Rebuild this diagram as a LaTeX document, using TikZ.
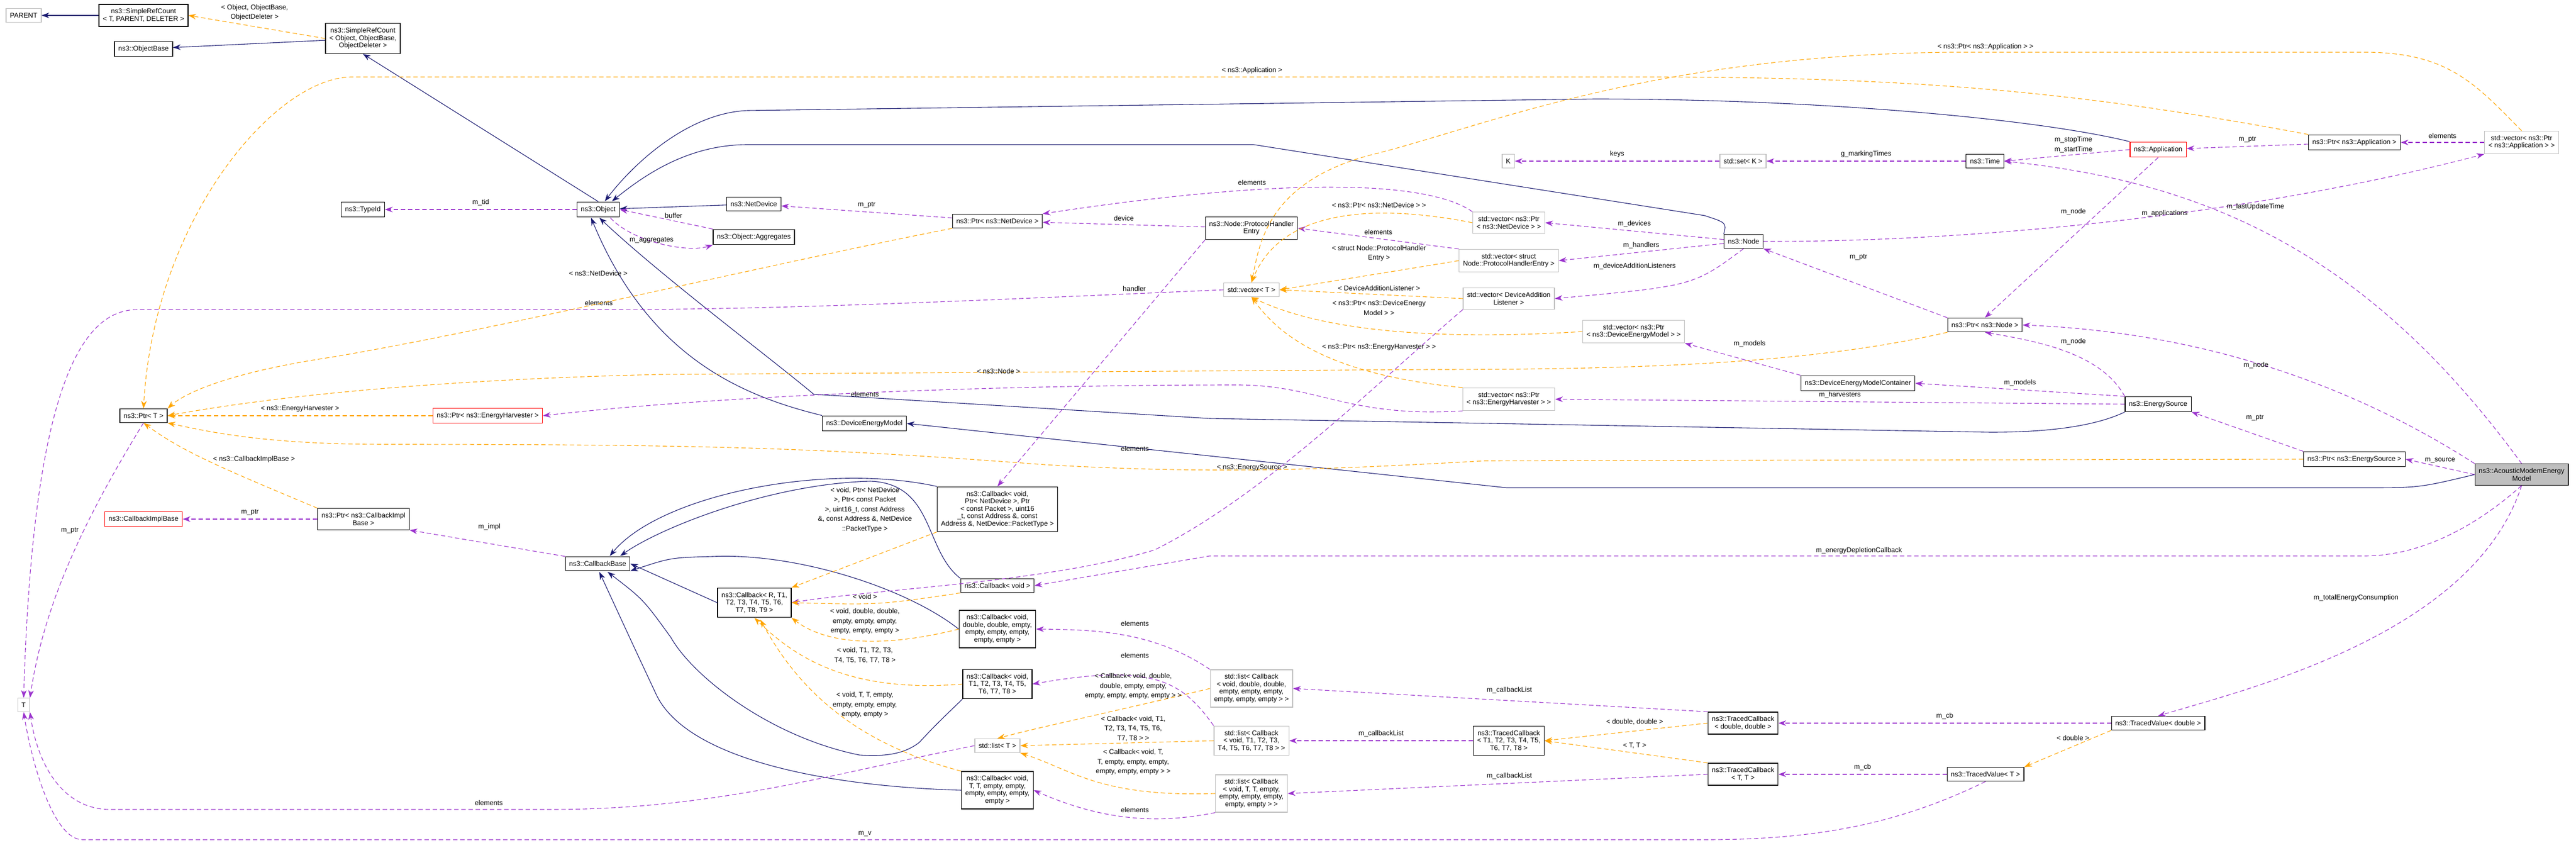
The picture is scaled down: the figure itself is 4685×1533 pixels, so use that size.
\documentclass[tikz,border=0pt]{standalone}
\usepackage{fontspec}
\setmainfont{Liberation Sans}
\usetikzlibrary{arrows.meta,positioning}
\definecolor{navyline}{HTML}{191970}
\definecolor{orchidline}{HTML}{9A32CD}
\definecolor{tplline}{HTML}{FFA500}

\begin{document}
\begin{tikzpicture}
   [x=1pt,y=-1pt,
    every node/.style={font=\fontsize{12.5}{17.5}\selectfont},
    cls/.style={draw=black,line width=1.3pt,fill=white,align=center,inner xsep=7pt,inner ysep=8pt},
    ext/.style={cls,draw=black!25},
    bad/.style={cls,draw=red},
    focus/.style={cls,fill=black!25},
    lbl/.style={align=center,inner sep=0pt},
    inh/.style={draw=navyline,line width=1.1pt,-{Stealth[length=14pt,width=10pt]}},
    usg/.style={draw=orchidline,line width=1.1pt,dash pattern=on 8pt off 5pt,-{Stealth[length=14pt,width=10pt]}},
    tpl/.style={draw=tplline,line width=1.1pt,dash pattern=on 8pt off 5pt,-{Stealth[length=14pt,width=10pt]}}]
\useasboundingbox (0,0) rectangle (4685,1533);
% classes
\node [ext] (parent) at (43,28) {PARENT};
\node [cls] (srcTPD) at (261,28) {ns3::SimpleRefCount\\[-4pt]< T, PARENT, DELETER >};
\node [cls] (objBase) at (261,89) {ns3::ObjectBase};
\node [cls] (srcObj) at (660,70) {ns3::SimpleRefCount\\[-4pt]< Object, ObjectBase,\\[-4pt]ObjectDeleter >};
\node [cls] (typeId) at (660,381) {ns3::TypeId};
\node [cls] (object) at (1088,381) {ns3::Object};
\node [cls] (netDev) at (1371,371) {ns3::NetDevice};
\node [cls] (aggr) at (1371,431) {ns3::Object::Aggregates};
\node [cls] (ptrNetDev) at (1814,402) {ns3::Ptr< ns3::NetDevice >};
\node [cls] (phe) at (2276,415) {ns3::Node::ProtocolHandler\\[-4pt]Entry};
\node [ext] (vecT) at (2276,527) {std::vector< T >};
\node [ext] (vecND) at (2744,405) {std::vector< ns3::Ptr\\[-4pt]< ns3::NetDevice > >};
\node [ext] (vecPHE) at (2744,474) {std::vector< struct\\[-4pt] Node::ProtocolHandlerEntry >};
\node [ext] (vecDAL) at (2744,543) {std::vector< DeviceAddition\\[-4pt]Listener >};
\node [ext] (vecDEM) at (2971,603) {std::vector< ns3::Ptr\\[-4pt]< ns3::DeviceEnergyModel > >};
\node [ext] (vecEH) at (2744,726) {std::vector< ns3::Ptr\\[-4pt]< ns3::EnergyHarvester > >};
\node [ext] (k) at (2743,293) {K};
\node [ext] (setK) at (3170,293) {std::set< K >};
\node [cls] (node) at (3171,439) {ns3::Node};
\node [cls] (demc) at (3379,697) {ns3::DeviceEnergyModelContainer};
\node [cls] (ptrNode) at (3610,591) {ns3::Ptr< ns3::Node >};
\node [cls] (enSrc) at (3925,735) {ns3::EnergySource};
\node [cls] (time) at (3610,293) {ns3::Time};
\node [bad] (app) at (3925,272) {ns3::Application};
\node [cls] (ptrApp) at (4282,259) {ns3::Ptr< ns3::Application >};
\node [ext] (vecApp) at (4586,259) {std::vector< ns3::Ptr\\[-4pt]< ns3::Application > >};
\node [cls] (ptrES) at (4282,835) {ns3::Ptr< ns3::EnergySource >};
\node [focus] (acoustic) at (4586,863) {ns3::AcousticModemEnergy\\[-4pt]Model};
\node [cls] (tvDouble) at (3925,1315) {ns3::TracedValue< double >};
\node [cls] (tvT) at (3611,1408) {ns3::TracedValue< T >};
\node [cls] (tcDD) at (3170,1315) {ns3::TracedCallback\\[-4pt]< double, double >};
\node [cls] (tcTT) at (3170,1408) {ns3::TracedCallback\\[-4pt]< T, T >};
\node [cls] (tcT1) at (2744,1347) {ns3::TracedCallback\\[-4pt]< T1, T2, T3, T4, T5,\\[-4pt] T6, T7, T8 >};
\node [ext] (listDD) at (2276,1252) {std::list< Callback\\[-4pt]< void, double, double,\\[-4pt] empty, empty, empty,\\[-4pt] empty, empty, empty > >};
\node [ext] (listT1) at (2276,1347) {std::list< Callback\\[-4pt]< void, T1, T2, T3,\\[-4pt] T4, T5, T6, T7, T8 > >};
\node [ext] (listTT) at (2276,1443) {std::list< Callback\\[-4pt]< void, T, T, empty,\\[-4pt] empty, empty, empty,\\[-4pt] empty, empty > >};
\node [ext] (listT) at (1814,1356) {std::list< T >};
\node [cls] (dem) at (1572,770) {ns3::DeviceEnergyModel};
\node [cls] (cbND) at (1814,926) {ns3::Callback< void,\\[-4pt] Ptr< NetDevice >, Ptr\\[-4pt]< const Packet >, uint16\\[-4pt]\_t, const Address \&, const\\[-4pt] Address \&, NetDevice::PacketType >};
\node [cls] (cbVoid) at (1814,1065) {ns3::Callback< void >};
\node [cls] (cbR) at (1372,1096) {ns3::Callback< R, T1,\\[-4pt]T2, T3, T4, T5, T6,\\[-4pt]T7, T8, T9 >};
\node [cls] (cbDD) at (1814,1144) {ns3::Callback< void,\\[-4pt]double, double, empty,\\[-4pt]empty, empty, empty,\\[-4pt]empty, empty >};
\node [cls] (cbT1) at (1814,1244) {ns3::Callback< void,\\[-4pt]T1, T2, T3, T4, T5,\\[-4pt]T6, T7, T8 >};
\node [cls] (cbTT) at (1814,1437) {ns3::Callback< void,\\[-4pt]T, T, empty, empty,\\[-4pt]empty, empty, empty,\\[-4pt]empty >};
\node [cls] (cbBase) at (1087,1025) {ns3::CallbackBase};
\node [cls] (ptrCIB) at (661,944) {ns3::Ptr< ns3::CallbackImpl\\[-4pt]Base >};
\node [bad] (cib) at (261,944) {ns3::CallbackImplBase};
\node [cls] (ptrT) at (261,756) {ns3::Ptr< T >};
\node [bad] (ptrEH) at (887,756) {ns3::Ptr< ns3::EnergyHarvester >};
\node [ext] (t) at (43,1282) {T};
% inheritance
\draw [inh] (srcTPD) -- (parent);
\draw [inh] (srcObj) -- (objBase);
\draw [inh] (object.north) -- (srcObj.south);
\draw [inh] (netDev) -- (object);
\draw [inh] (app.north west) .. controls (3700,215) and (3300,180) .. (2900,180) -- (1360,201) .. controls (1250,205) and (1150,300) .. (1100,366);
\draw [inh] (node.north west) .. controls (3140,405) .. (3100,392) -- (2280,263) -- (1360,263) .. controls (1250,263) and (1170,320) .. (1113,366);
\draw [inh] (dem.north west) .. controls (1350,720) and (1180,650) .. (1075,396);
\draw [inh] (enSrc.south west) .. controls (3800,780) and (3700,786) .. (3620,786) -- (2200,761) -- (1480,717) .. controls (1400,650) and (1200,500) .. (1090,396);
\draw [inh] (acoustic.west) .. controls (4400,887) .. (4300,887) -- (2740,887) -- (dem.east);
\draw [inh] (cbND.north west) .. controls (1500,840) and (1200,900) .. (1109,1011);
\draw [inh] (cbVoid.north west) .. controls (1680,1000) and (1700,880) .. (1583,875) .. controls (1400,880) and (1200,960) .. (1128,1011);
\draw [inh] (cbR.west) -- (cbBase.east);
\draw [inh] (cbDD.west) .. controls (1650,1070) and (1450,1005) .. (1296,1012) .. controls (1220,1014) .. (cbBase.south east);
\draw [inh] (cbT1.south west) .. controls (1700,1320) .. (1672,1350) .. controls (1640,1375) and (1600,1375) .. (1563,1373) .. controls (1400,1340) and (1260,1230) .. (1220,1159) .. controls (1170,1090) .. (1105,1040);
\draw [inh] (cbTT.west) .. controls (1500,1430) and (1250,1380) .. (1194,1264) .. controls (1150,1170) .. (1090,1040);
% usage
\draw [usg] (object) -- node [above=3pt] {m\_tid} (typeId);
\draw [usg] (aggr.north west) -- (object.east);
\node [lbl] (lBuffer) at (1225,392) {buffer};
\draw [usg] (1110,396) .. controls (1150,440) and (1250,460) .. (aggr.south west);
\node [lbl] (lAggr) at (1185,437) {m\_aggregates};
\draw [usg] (ptrNetDev) -- node [above=3pt] {m\_ptr} (netDev);
\draw [usg] (phe) -- node [above=3pt] {device} (ptrNetDev);
\draw [usg] (vecND.north west) .. controls (2600,330) and (2350,320) .. (ptrNetDev.north east);
\node [lbl] (lElND) at (2277,332) {elements};
\draw [usg] (phe.south west) -- (cbND.north);
\node [lbl] (lHandler) at (2063,525) {handler};
\draw [usg] (app.west) -- (time.east);
\node [lbl] (lStart) at (3771,263) {m\_stopTime\\m\_startTime};
\draw [usg] (time) -- node [above=3pt] {g\_markingTimes} (setK);
\draw [usg] (setK) -- node [above=3pt] {keys} (k);
\draw [usg] (app.south) -- (ptrNode.north);
\node [lbl] (lAppNode) at (3771,385) {m\_node};
\draw [usg] (ptrApp) -- node [above=3pt] {m\_ptr} (app);
\draw [usg] (vecApp) -- node [above=3pt] {elements} (ptrApp);
\draw [usg] (node.east) .. controls (3600,440) and (4100,390) .. (vecApp.south west);
\node [lbl] (lApps) at (3937,388) {m\_applications};
\draw [usg] (node) -- node [above=3pt] {m\_devices} (vecND.east);
\draw [usg] (node) -- node [above=3pt] {m\_handlers} (vecPHE.east);
\draw [usg] (node.south) .. controls (3080,520) .. (vecDAL.east);
\node [lbl] (lDAL) at (2973,484) {m\_deviceAdditionListeners};
\draw [usg] (vecPHE.north west) -- node [above=3pt] {elements} (phe.east);
\draw [usg] (ptrNode.north west) -- (node.south east);
\node [lbl] (lNodePtr) at (3380,468) {m\_ptr};
\draw [usg] (acoustic.north west) .. controls (4200,650) and (3900,600) .. (ptrNode.east);
\node [lbl] (lAcNode) at (4103,664) {m\_node};
\draw [usg] (enSrc.north west) .. controls (3820,640) and (3700,620) .. (ptrNode.south);
\node [lbl] (lEsNode) at (3771,621) {m\_node};
\draw [usg] (acoustic.north) .. controls (4300,450) and (4000,330) .. (time.east);
\node [lbl] (lUpd) at (4102,376) {m\_lastUpdateTime};
\draw [usg] (enSrc.north west) -- node [above=3pt] {m\_models} (demc.east);
\draw [usg] (demc.north west) -- (vecDEM.south east);
\node [lbl] (lModels) at (3182,625) {m\_models};
\draw [usg] (enSrc.west) -- node [above=3pt] {m\_harvesters} (vecEH.east);
\draw [usg] (vecEH.south west) .. controls (2450,760) and (2400,700) .. (2250,700) .. controls (1800,700) and (1300,720) .. (ptrEH.east);
\node [lbl] (lElEH) at (1573,717) {elements};
\draw [usg] (acoustic.west) -- node [above=3pt] {m\_source} (ptrES.east);
\draw [usg] (ptrES.north west) -- (enSrc.south east);
\node [lbl] (lEsPtr) at (4101,760) {m\_ptr};
\draw [usg] (acoustic.south) .. controls (4500,960) and (4400,1011) .. (4300,1011) -- (2200,1011) -- (cbVoid.east);
\node [lbl] (lDepl) at (3381,1001) {m\_energyDepletionCallback};
\draw [usg] (acoustic.south) .. controls (4500,1150) and (4100,1250) .. (tvDouble.north);
\node [lbl] (lTotal) at (4285,1087) {m\_totalEnergyConsumption};
\draw [usg] (tvDouble) -- node [above=3pt] {m\_cb} (tcDD);
\draw [usg] (tvT) -- node [above=3pt] {m\_cb} (tcTT);
\draw [usg] (tvT.south) .. controls (3450,1500) and (3300,1527) .. (3100,1527) -- (150,1527) .. controls (100,1527) and (60,1400) .. (t.south);
\node [lbl] (lMv) at (1573,1516) {m\_v};
\draw [usg] (listT.west) .. controls (1500,1410) and (1300,1472) .. (1000,1472) -- (200,1472) .. controls (120,1472) and (70,1400) .. (t.south east);
\node [lbl] (lElT) at (889,1460) {elements};
\draw [usg] (vecT.west) .. controls (1700,550) and (1400,563) .. (1100,563) -- (250,563) .. controls (150,563) and (60,700) .. (t.north);
\node [lbl] (lElVec) at (1089,551) {elements};
\draw [usg] (ptrT.south) .. controls (150,950) and (80,1100) .. (t.north east);
\node [lbl] (lPtrT) at (127,965) {m\_ptr};
\draw [usg] (ptrCIB) -- node [above=3pt] {m\_ptr} (cib);
\draw [usg] (cbBase.north west) -- (ptrCIB.south east);
\node [lbl] (lImpl) at (890,958) {m\_impl};
\draw [usg] (listDD.north west) .. controls (2100,1150) and (2000,1145) .. (cbDD.east);
\node [lbl] (lElDD) at (2064,1134) {elements};
\draw [usg] (listT1.north west) .. controls (2150,1240) and (2100,1205) .. (cbT1.east);
\node [lbl] (lElT1) at (2064,1192) {elements};
\draw [usg] (listTT.south west) .. controls (2100,1500) and (2000,1490) .. (cbTT.east);
\node [lbl] (lElTT) at (2064,1473) {elements};
\draw [usg] (tcDD.north west) -- (listDD.east);
\node [lbl] (lCbl1) at (2745,1255) {m\_callbackList};
\draw [usg] (tcT1) -- node [above=3pt] {m\_callbackList} (listT1);
\draw [usg] (tcTT.west) -- (listTT.east);
\node [lbl] (lCbl3) at (2745,1411) {m\_callbackList};
\draw [usg] (vecDAL.south west) .. controls (2500,700) and (2300,900) .. (2100,1000) .. controls (1900,1060) and (1600,1070) .. (cbR.east);
\node [lbl] (lElDAL) at (2064,816) {elements};
% template instances
\draw [tpl] (srcObj.west) -- (srcTPD.east);
\node [lbl] (lSrc) at (463,23) {< Object, ObjectBase,\\ObjectDeleter >};
\draw [tpl] (ptrApp.north west) .. controls (3800,170) and (3500,140) .. (3000,140) -- (640,140) .. controls (500,140) and (280,400) .. (ptrT.north);
\node [lbl] (lApp) at (2277,128) {< ns3::Application >};
\draw [tpl] (vecApp.north) .. controls (4500,150) and (4450,95) .. (4300,95) -- (3550,95) .. controls (3000,100) and (2700,230) .. (2500,280) .. controls (2300,330) and (2290,450) .. (vecT.north);
\node [lbl] (lVecApp) at (3611,85) {< ns3::Ptr< ns3::Application > >};
\draw [tpl] (vecND.west) .. controls (2500,370) and (2330,380) .. (vecT.north);
\node [lbl] (lVecND) at (2508,373) {< ns3::Ptr< ns3::NetDevice > >};
\draw [tpl] (vecPHE.west) -- (vecT.east);
\node [lbl] (lVecPHE) at (2508,461) {< struct Node::ProtocolHandler\\Entry >};
\draw [tpl] (vecDAL.west) -- (vecT.east);
\node [lbl] (lVecDAL) at (2508,524) {< DeviceAdditionListener >};
\draw [tpl] (vecDEM.west) .. controls (2600,620) and (2400,600) .. (vecT.south);
\node [lbl] (lVecDEM) at (2508,560) {< ns3::Ptr< ns3::DeviceEnergy\\Model > >};
\draw [tpl] (vecEH.north west) .. controls (2400,680) and (2320,600) .. (vecT.south);
\node [lbl] (lVecEH) at (2508,631) {< ns3::Ptr< ns3::EnergyHarvester > >};
\draw [tpl] (ptrNetDev.south west) .. controls (1400,480) and (900,600) .. (600,650) .. controls (400,680) and (330,720) .. (ptrT.north east);
\node [lbl] (lND) at (1088,497) {< ns3::NetDevice >};
\draw [tpl] (ptrNode.south west) .. controls (3300,660) and (3000,672) .. (2600,672) -- (1200,681) .. controls (800,690) and (500,720) .. (ptrT.east);
\node [lbl] (lNode) at (1816,675) {< ns3::Node >};
\draw [tpl] (ptrEH) -- node [above=3pt] {< ns3::EnergyHarvester >} (ptrT);
\draw [tpl] (ptrES.west) -- (2700,838) .. controls (2400,855) and (2200,862) .. (1900,845) .. controls (1500,815) and (1300,808) .. (700,808) .. controls (500,808) and (400,790) .. (ptrT.south east);
\node [lbl] (lES) at (2277,850) {< ns3::EnergySource >};
\draw [tpl] (ptrCIB.north west) .. controls (400,850) and (330,820) .. (ptrT.south);
\node [lbl] (lCIB) at (462,835) {< ns3::CallbackImplBase >};
\draw [tpl] (cbND.south west) -- (cbR.north east);
\node [lbl] (lCbND) at (1573,927) {< void, Ptr< NetDevice\\>, Ptr< const Packet\\>, uint16\_t, const Address\\\&, const Address \&, NetDevice\\::PacketType >};
\draw [tpl] (cbVoid.south west) .. controls (1600,1100) .. (cbR.east);
\node [lbl] (lVoid) at (1573,1085) {< void >};
\draw [tpl] (cbDD.west) .. controls (1600,1180) and (1500,1170) .. (cbR.south east);
\node [lbl] (lDD) at (1573,1130) {< void, double, double,\\empty, empty, empty,\\empty, empty, empty >};
\draw [tpl] (cbT1.west) .. controls (1550,1260) and (1450,1200) .. (cbR.south);
\node [lbl] (lT1) at (1573,1192) {< void, T1, T2, T3,\\T4, T5, T6, T7, T8 >};
\draw [tpl] (cbTT.north west) .. controls (1550,1350) and (1450,1250) .. (1383,1127);
\node [lbl] (lTT) at (1573,1282) {< void, T, T, empty,\\empty, empty, empty,\\empty, empty >};
\draw [tpl] (listDD.west) .. controls (2000,1300) and (1900,1320) .. (listT.north);
\node [lbl] (lLDD) at (2061,1248) {< Callback< void, double,\\double, empty, empty,\\empty, empty, empty, empty > >};
\draw [tpl] (listT1.west) -- (listT.east);
\node [lbl] (lLT1) at (2061,1325) {< Callback< void, T1,\\T2, T3, T4, T5, T6,\\T7, T8 > >};
\draw [tpl] (listTT.west) .. controls (2000,1450) and (1950,1400) .. (listT.south east);
\node [lbl] (lLTT) at (2061,1386) {< Callback< void, T,\\T, empty, empty, empty,\\empty, empty, empty > >};
\draw [tpl] (tcDD.west) -- (tcT1.east);
\node [lbl] (lTcDD) at (2973,1313) {< double, double >};
\draw [tpl] (tcTT.north west) -- (tcT1.east);
\node [lbl] (lTcTT) at (2973,1356) {< T, T >};
\draw [tpl] (tvDouble.south west) -- (tvT.north east);
\node [lbl] (lTv) at (3770,1342) {< double >};
\end{tikzpicture}
\end{document}
